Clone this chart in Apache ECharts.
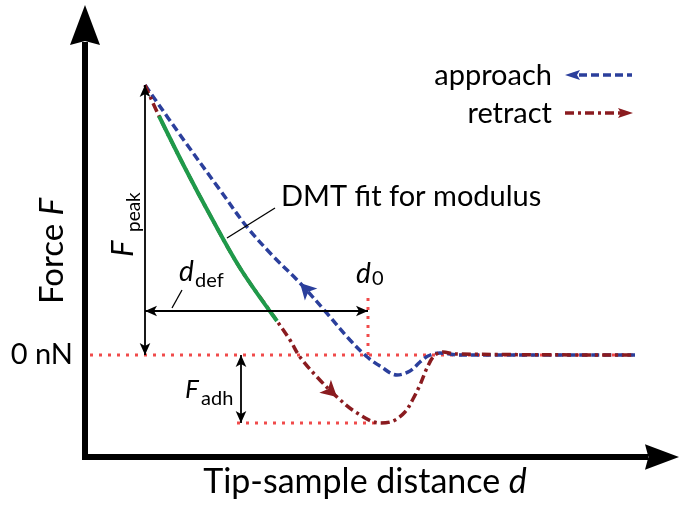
<!DOCTYPE html>
<html><head><meta charset="utf-8">
<script src="https://cdn.jsdelivr.net/npm/echarts@6/dist/echarts.min.js"></script>
<style>html,body{margin:0;padding:0;background:#fff}#c{width:684px;height:506px}</style>
</head><body><div id="c"></div>
<script>
// Tip-sample distance d (arbitrary units) and force F (arbitrary units, 0 = 0 nN)
const approach = [[6.0,27.0],[9.8,21.6],[13.5,16.5],[16.2,12.8],[18.7,10.0],[21.5,7.2],[24.0,4.4],[26.5,1.5],[28.1,-0.1],[29.5,-1.1],[31.2,-2.0],[32.5,-1.6],[33.5,-0.7],[34.3,-0.1],[35.5,0.2],[37.5,0.0],[55.0,0.0]];
const retract = [[6.0,27.0],[7.4,23.9],[10.0,18.7],[12.5,14.0],[15.5,8.7],[19.2,3.4],[20.5,1.5],[21.5,-0.2],[23.3,-2.3],[25.2,-4.2],[27.2,-5.8],[29.5,-6.8],[30.8,-6.6],[32.0,-5.7],[32.8,-4.4],[33.5,-3.0],[34.2,-1.3],[34.9,-0.1],[35.8,0.3],[37.0,0.1],[55.0,0.0]];
const dmtFit = [[7.4,23.9],[10.0,18.7],[12.5,14.0],[15.5,8.7],[19.2,3.4]];
const peak = [6.0, 27.0];          // F_peak point
const d0 = 28.3;                   // contact point distance
const adhesionMin = -6.8;          // F_adh minimum
const zeroRange = [0.5, 55.0];     // extent of 0 nN reference line
const adhStart = 15.2;             // start of F_adh reference line
const dDefLevel = 4.4;             // force level of d_def arrow
const adhArrowD = 15.6;            // distance of F_adh arrow
const approachArrow = [21.5, 7.2];
const retractArrow = [25.2, -4.2];
const yTickLabels = [0];

const BLUE = '#2b3f9c', RED = '#8a1b1f', GREEN = '#1f9a4a', DOT = '#f04a4a';
const FONT = 'Lato';
const axisArrow = 'path://M0,0 L15,40 L0,36 L-15,40 Z';

const chart = echarts.init(document.getElementById('c'), null, {renderer: 'canvas'});
const dotted = {color: DOT, width: 3, type: [3, 6]};
const t = (text, x, y, size, opts) => Object.assign({
  type: 'text', x: x, y: y, silent: true,
  style: Object.assign({text: text, fontSize: size, fontFamily: FONT, fill: '#000',
    textAlign: 'left', align: 'left', textVerticalAlign: 'middle', verticalAlign: 'middle'}, (opts && opts.style) || {})
}, (opts && opts.el) || {});

chart.setOption({
  animation: false,
  backgroundColor: '#fff',
  grid: {left: 85, right: 39, top: 45, bottom: 49, containLabel: false, outerBoundsMode: 'none'},
  xAxis: {
    type: 'value', min: 0, max: 56,
    name: 'Tip-sample distance {i|d}', nameLocation: 'middle', nameGap: 8, nameMoveOverlap: false,
    nameTextStyle: {fontSize: 34, fontFamily: FONT, color: '#000',
      rich: {i: {fontSize: 34, fontFamily: FONT, fontStyle: 'italic', color: '#000'}}},
    axisLine: {show: true, onZero: false, symbol: ['none', axisArrow], symbolSize: [30, 34], symbolOffset: [0, 17],
      lineStyle: {color: '#000', width: 6, cap: 'square'}},
    axisTick: {show: false}, axisLabel: {show: false}, splitLine: {show: false}
  },
  yAxis: {
    type: 'value', min: -10.2, max: 31.0,
    name: 'Force {i|F}', nameLocation: 'middle', nameGap: 16, nameRotate: 90, nameMoveOverlap: false,
    nameTextStyle: {fontSize: 33, fontFamily: FONT, color: '#000',
      rich: {i: {fontSize: 33, fontFamily: FONT, fontStyle: 'italic', color: '#000'}}},
    axisLine: {show: true, onZero: false, symbol: ['none', axisArrow], symbolSize: [30, 40], symbolOffset: [0, 20],
      lineStyle: {color: '#000', width: 6, cap: 'square'}},
    axisTick: {show: false}, splitLine: {show: false},
    axisLabel: {show: true, customValues: yTickLabels, formatter: v => v + ' nN', fontSize: 29, fontFamily: FONT, color: '#000', margin: 12}
  },
  series: [
    {type: 'line', name: 'zero', data: [[zeroRange[0], 0], [zeroRange[1], 0]], symbol: 'none', lineStyle: dotted, silent: true,
      markLine: {silent: true, symbol: ['arrow', 'arrow'], symbolSize: [8, 12], label: {show: false},
        lineStyle: {color: '#000', width: 1.8, type: 'solid'}, emphasis: {disabled: true},
        data: [
          [{coord: [peak[0], 0]}, {coord: peak}],
          [{coord: [peak[0], dDefLevel]}, {coord: [d0, dDefLevel]}],
          [{coord: [adhArrowD, 0]}, {coord: [adhArrowD, adhesionMin]}]
        ]}},
    {type: 'line', name: 'd0', data: [[d0, 0], [d0, 6.3]], symbol: 'none', lineStyle: dotted, silent: true,
      markLine: {silent: true, symbol: ['none', 'none'], label: {show: false},
        lineStyle: {color: '#000', width: 1.3, type: 'solid'}, emphasis: {disabled: true},
        data: [
          [{coord: [8.7, 4.7]}, {coord: [9.7, 6.5]}],
          [{coord: [14.2, 11.7]}, {coord: [19.0, 14.7]}]
        ]}},
    {type: 'line', name: 'adh', data: [[adhStart, adhesionMin], [29.5, adhesionMin]], symbol: 'none', lineStyle: dotted, silent: true},
    {type: 'line', name: 'approach', data: approach, smooth: 0.35, symbol: 'none',
      lineStyle: {color: BLUE, width: 3.5, type: [8, 4]}},
    {type: 'line', name: 'retract', data: retract, smooth: 0.35, symbol: 'none',
      lineStyle: {color: RED, width: 3.5, type: [9, 4, 3, 4]}},
    {type: 'line', name: 'DMT fit', data: dmtFit, smooth: 0.35, symbol: 'none',
      lineStyle: {color: GREEN, width: 4, type: 'solid'}},
    {type: 'scatter', name: 'arrows', symbol: 'arrow', symbolSize: [13, 16], silent: true, z: 5,
      itemStyle: {opacity: 1},
      data: [
        {value: approachArrow, symbolRotate: 44, itemStyle: {color: BLUE, opacity: 1}},
        {value: retractArrow, symbolRotate: -132, itemStyle: {color: RED, opacity: 1}}
      ]}
  ],
  graphic: [
    t('approach', 552, 76, 29, {style: {textAlign: 'right', align: 'right'}}),
    t('retract', 552, 114, 29, {style: {textAlign: 'right', align: 'right'}}),
    {type: 'line', silent: true, shape: {x1: 579, y1: 75, x2: 632, y2: 75}, style: {stroke: BLUE, lineWidth: 3.5, lineDash: [8, 4]}},
    {type: 'polygon', silent: true, shape: {points: [[565, 75], [580, 70], [577, 75], [580, 80]]}, style: {fill: BLUE}},
    {type: 'line', silent: true, shape: {x1: 565, y1: 113, x2: 621, y2: 113}, style: {stroke: RED, lineWidth: 3.5, lineDash: [9, 4, 3, 4]}},
    {type: 'polygon', silent: true, shape: {points: [[633, 113], [618, 108], [621, 113], [618, 118]]}, style: {fill: RED}},
    t('DMT fit for modulus', 281, 197, 29),
    t('d', 179, 272, 28, {style: {fontStyle: 'italic'}}),
    t('def', 195, 281, 20),
    t('d', 356, 274, 28, {style: {fontStyle: 'italic'}}),
    t('0', 372, 279, 20),
    t('F', 185, 390, 26, {style: {fontStyle: 'italic'}}),
    t('adh', 201, 399, 20),
    t('F', 123, 257, 31, {style: {fontStyle: 'italic'}, el: {rotation: Math.PI / 2}}),
    t('peak', 134, 232, 19, {el: {rotation: Math.PI / 2}})
  ]
});
</script></body></html>
